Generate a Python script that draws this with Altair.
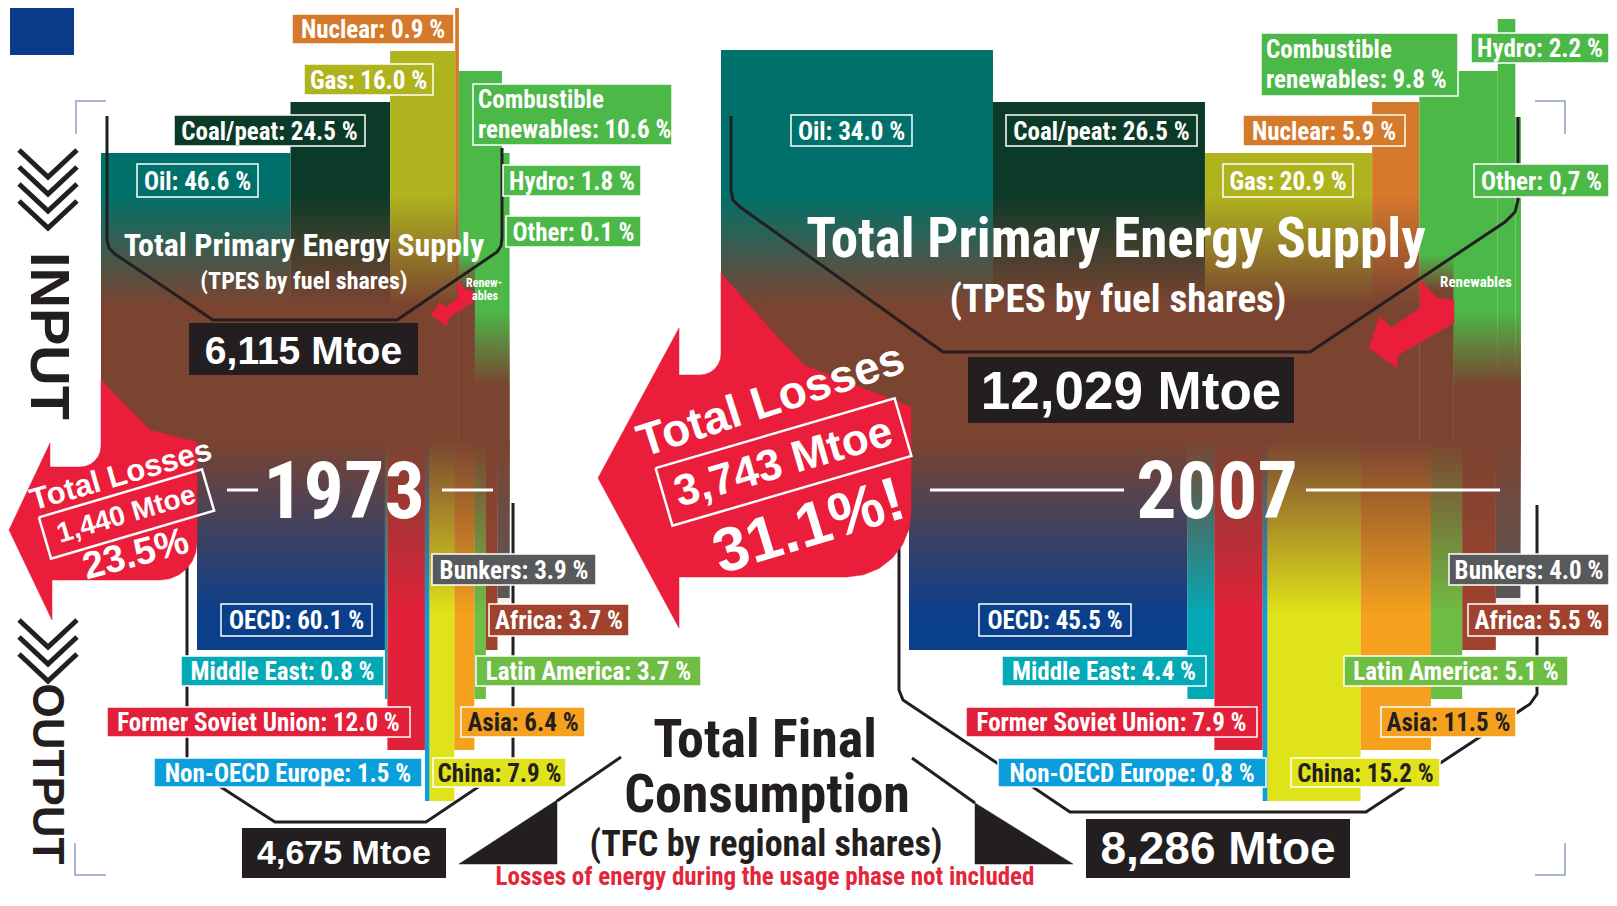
import math
import altair as alt
import pandas as pd

# ================= DATA (read from the infographic) =================
years = ["1973", "2007"]
fuels = ["Oil", "Coal/peat", "Gas", "Nuclear", "Combustible renewables", "Hydro", "Other"]
fuel_share_1973 = [46.6, 24.5, 16.0, 0.9, 10.6, 1.8, 0.1]
fuel_share_2007 = [34.0, 26.5, 20.9, 5.9, 9.8, 2.2, 0.7]
regions = ["OECD", "Middle East", "Former Soviet Union", "Non-OECD Europe",
           "China", "Asia", "Latin America", "Africa", "Bunkers"]
region_share_1973 = [60.1, 0.8, 12.0, 1.5, 7.9, 6.4, 3.7, 3.7, 3.9]
region_share_2007 = [45.5, 4.4, 7.9, 0.8, 15.2, 11.5, 5.1, 5.5, 4.0]
tpes_mtoe = [6115, 12029]
tfc_mtoe = [4675, 8286]
losses_mtoe = [1440, 3743]
losses_pct = [23.5, 31.1]
losses_suffix = ["%", "%!"]
comma_decimal = [("2007", "Other"), ("2007", "Non-OECD Europe")]

# ================= STYLE =================
FUEL_COLORS = ["#00716A", "#0C3A29", "#AFB41E", "#D5792B", "#4BB848", "#4BB848", "#4BB848"]
REGION_COLORS = ["#0A3F8B", "#03A9B5", "#E3203A", "#0A9EDB", "#E1E31A",
                 "#F5A11D", "#6FBE44", "#A0422E", "#58595B"]
REGION_TEXT = ["white", "white", "white", "white", "#231F20", "#231F20", "white", "white", "white"]
BROWN = "#7A4431"
BROWN_0 = "rgba(122,68,49,0)"
RED = "#EA1D3A"
INK = "#231F20"
FRAME = "#A9B3D6"
EU_BLUE = "#0B3C8C"
FONT_C = "Noto Sans Condensed, Roboto Condensed, Liberation Sans Narrow, Roboto, sans-serif"
FONT_W = "Liberation Sans, Arial, sans-serif"

# ================= LAYOUT (page pixels) =================
PX_PER_MTOE = 0.0665
tpes_x0 = [101, 721]
fuel_top_1973 = [153, 102, 51, 7, 71, 153, 153]
fuel_top_2007 = [50, 102, 153, 102, 71, 19, 117]
RENEW_FROM = 4
renew_arrow_w = [16, 34]       # part of the renewables band that bends into the mix early
tfc_left = [197, 909]          # right edge is aligned with the TPES band
region_tier = [1, 2, 3, 4, 4, 3, 2, 1, 0]
tier_bottom = [598, 650, 699, 750, 801]
fuel_label_box_1973 = [(137, 164, 258, 197), (174, 115, 365, 146), (304, 64, 433, 95),
                       (292, 14, 454, 44), (473, 84, 672, 145), (503, 165, 641, 196),
                       (506, 216, 641, 247)]
fuel_label_box_2007 = [(791, 115, 912, 146), (1006, 115, 1197, 146), (1223, 164, 1353, 197),
                       (1243, 115, 1405, 146), (1261, 33, 1458, 96), (1471, 33, 1609, 63),
                       (1474, 164, 1609, 197)]
region_label_box_1973 = [(221, 604, 372, 636), (181, 656, 384, 686), (107, 707, 410, 737),
                         (154, 758, 422, 787), (433, 758, 566, 787), (461, 707, 585, 737),
                         (476, 656, 701, 686), (489, 604, 629, 636), (432, 554, 596, 585)]
region_label_box_2007 = [(979, 604, 1131, 636), (1002, 656, 1206, 686), (966, 707, 1257, 737),
                         (998, 758, 1266, 787), (1291, 758, 1440, 787), (1381, 707, 1516, 737),
                         (1344, 656, 1568, 686), (1468, 604, 1609, 636), (1449, 554, 1609, 585)]
tpes_box = [(189, 323, 418, 375), (968, 357, 1294, 423)]
tfc_box = [(242, 828, 446, 878), (1086, 819, 1350, 878)]

XS = alt.Scale(domain=[8, 1609], nice=False, zero=False)
YS = alt.Scale(domain=[8, 894], nice=False, zero=False, reverse=True)


def rect_enc():
    return dict(x=alt.X("x0:Q", scale=XS, axis=None), x2=alt.X2("x1:Q"),
                y=alt.Y("y0:Q", scale=YS, axis=None), y2=alt.Y2("y1:Q"))


def pt_enc():
    return dict(x=alt.X("x:Q", scale=XS, axis=None), y=alt.Y("y:Q", scale=YS, axis=None))


def fmt(v, yr, name):
    s = f"{v:.1f}"
    if (yr, name) in comma_decimal:
        s = s.replace(".", ",")
    return s


layers = []

# ---------- EU square ----------
layers.append(alt.Chart(pd.DataFrame([dict(x0=10, x1=74, y0=7, y1=55)]))
              .mark_rect(fill=EU_BLUE).encode(**rect_enc()))

# ---------- fuel columns (TPES) ----------
fuel_rows = []
for yi, yr in enumerate(years):
    shares = fuel_share_1973 if yi == 0 else fuel_share_2007
    tops = fuel_top_1973 if yi == 0 else fuel_top_2007
    x = tpes_x0[yi]
    for i, f in enumerate(fuels):
        w = shares[i] / 100.0 * tpes_mtoe[yi] * PX_PER_MTOE
        fuel_rows.append(dict(year=yr, fuel=f, idx=i, x0=x, x1=x + w, y0=tops[i], y1=445,
                              fill=FUEL_COLORS[i]))
        x += w
fuel_df = pd.DataFrame(fuel_rows)
layers.append(alt.Chart(fuel_df).mark_rect().encode(fill=alt.Fill("fill:N", scale=None), **rect_enc()))


def grad_rect(x0, x1, y0, y1, y_full, reverse=False):
    off = (y_full - y0) / (y1 - y0)
    stops = [(0, BROWN), (1, BROWN_0)] if reverse else [(0, BROWN_0), (off, BROWN), (1, BROWN)]
    g = alt.Gradient(gradient="linear", x1=0, x2=0, y1=0, y2=1,
                     stops=[alt.GradientStop(color=c, offset=o) for o, c in stops])
    return alt.Chart(pd.DataFrame([dict(x0=x0, x1=x1, y0=y0, y1=y1)])).mark_rect(fill=g).encode(**rect_enc())


# fade of the fuels into the brown "mix"
tpes_right = []
for yi, yr in enumerate(years):
    d = fuel_df[fuel_df.year == yr]
    xa = d.x0.min()
    xr = d[d.idx == RENEW_FROM].x0.iloc[0]
    xb = d.x1.max()
    tpes_right.append(xb)
    layers.append(grad_rect(xa, xr, 195, 445, 305))
    layers.append(grad_rect(xr, xr + renew_arrow_w[yi], 255, 445, 290))
    layers.append(grad_rect(xr + renew_arrow_w[yi], xb, 310, 445, 385))

# ---------- region columns (TFC) ----------
reg_rows = []
for yi, yr in enumerate(years):
    shares = region_share_1973 if yi == 0 else region_share_2007
    bx0, bx1 = tfc_left[yi], tpes_right[yi]
    x = bx0
    for i, r in enumerate(regions):
        w = shares[i] / 100.0 * (bx1 - bx0)
        reg_rows.append(dict(year=yr, region=r, x0=x, x1=x + w, y0=440,
                             y1=tier_bottom[region_tier[i]], fill=REGION_COLORS[i]))
        x += w
reg_df = pd.DataFrame(reg_rows)
layers.append(alt.Chart(reg_df).mark_rect().encode(fill=alt.Fill("fill:N", scale=None), **rect_enc()))
for yi in range(2):
    layers.append(grad_rect(tfc_left[yi], tpes_right[yi], 440, 615, 440, reverse=True))


# ---------- helper geometry ----------
def arc(cx, cy, r, t0, t1, n=7):
    return [(cx + r * math.cos(t0 + (t1 - t0) * k / (n - 1)),
             cy + r * math.sin(t0 + (t1 - t0) * k / (n - 1))) for k in range(n)]


def rot_box(cx, cy, w, h, ang):
    t = math.radians(ang)
    ux, uy = math.cos(t), -math.sin(t)
    vx, vy = math.sin(t), math.cos(t)
    pts = []
    for a, b in [(-1, -1), (1, -1), (1, 1), (-1, 1), (-1, -1)]:
        pts.append((cx + a * ux * w / 2 + b * vx * h / 2, cy + a * uy * w / 2 + b * vy * h / 2))
    return pts


def paths_df(paths):
    rows = []
    for pid, pts in enumerate(paths):
        for o, (x, y) in enumerate(pts):
            rows.append(dict(id=pid, o=o, x=x, y=y))
    return pd.DataFrame(rows)


def line_layer(paths, color, width, **kw):
    return alt.Chart(paths_df(paths)).mark_line(color=color, strokeWidth=width, strokeJoin="miter", **kw).encode(
        detail="id:N", order="o:Q", **pt_enc())


def poly_layer(paths, color):
    return alt.Chart(paths_df(paths)).mark_line(fill=color, color=color, strokeWidth=0.5).encode(
        detail="id:N", order="o:Q", **pt_enc())


# ---------- outline "cups" ----------
cups = [
    [(107, 116), (107, 240), (109, 248), (115, 254), (213, 320), (397, 320), (497, 252), (501, 246), (502, 238), (502, 148)],
    [(731, 116), (731, 190), (733, 200), (740, 207), (943, 352), (1310, 352), (1505, 222), (1515, 212), (1518, 200), (1518, 117)],
    [(187, 505), (187, 760), (190, 767), (275, 822), (426, 822), (508, 767), (513, 760), (513, 503)],
    [(899, 503), (899, 690), (903, 700), (1070, 812), (1366, 812), (1530, 704), (1537, 694), (1537, 505)],
]
layers.append(line_layer(cups, INK, 3))

# ---------- big red loss arrows + small bent renewables arrows ----------
big_1973 = ([(101, 380), (150, 430), (197, 442), (197, 543)] + arc(160, 543, 37, 0, math.pi / 2)
            + [(52, 580), (52, 620), (9, 530), (50, 443), (50, 467)] + arc(80, 446, 21, math.pi / 2, 0)
            + [(101, 380)])
big_2007 = ([(721, 273), (771, 330), (804, 365), (911, 407), (911, 513)] + arc(847, 513, 64, 0, math.pi / 2)
            + [(679, 577), (679, 628), (598, 478), (679, 328), (679, 375)] + arc(700, 354, 21, math.pi / 2, 0)
            + [(721, 273)])
small_1973 = [(458, 281), (466, 290), (473, 291), (473, 302), (450, 317), (446, 326), (431, 315),
              (440, 303), (446, 307), (458, 298), (458, 281)]
small_2007 = [(1420, 280), (1437, 298), (1454, 300), (1454, 323), (1398, 355), (1397, 368), (1369, 348),
              (1380, 316), (1391, 328), (1420, 308), (1420, 280)]
layers.append(poly_layer([big_1973, big_2007, small_1973, small_2007], RED))

# ---------- TFC wedges ----------
layers.append(poly_layer([[(459, 864), (557, 864), (557, 800), (459, 864)],
                          [(975, 803), (975, 864), (1073, 864), (975, 803)]], INK))
layers.append(line_layer([[(557, 801), (621, 757)], [(912, 758), (975, 803)]], INK, 3))

# ---------- chevrons, frame corners, year dashes ----------
chev = [[(19, 150 + 17 * i), (48, 177 + 17 * i), (77, 150 + 17 * i)] for i in range(4)]
chev += [[(19, 620 + 17 * i), (48, 647 + 17 * i), (77, 620 + 17 * i)] for i in range(3)]
layers.append(line_layer(chev, INK, 5))
corners = [[(106, 101), (76, 101), (76, 134)], [(75, 843), (75, 875), (106, 875)],
           [(1535, 101), (1565, 101), (1565, 134)], [(1565, 843), (1565, 875), (1535, 875)]]
layers.append(line_layer(corners, FRAME, 2))
dashes = [[(227, 490), (258, 490)], [(442, 490), (493, 490)],
          [(930, 490), (1124, 490)], [(1306, 490), (1500, 490)]]
layers.append(line_layer(dashes, "white", 3))

# ---------- label boxes ----------
box_rows, txt_c, txt_left = [], [], []
for yi, yr in enumerate(years):
    shares = fuel_share_1973 if yi == 0 else fuel_share_2007
    boxes = fuel_label_box_1973 if yi == 0 else fuel_label_box_2007
    for i, f in enumerate(fuels):
        x0, y0, x1, y1 = boxes[i]
        box_rows.append(dict(x0=x0, x1=x1, y0=y0, y1=y1, fill=FUEL_COLORS[i]))
        if f == "Combustible renewables":
            h = y1 - y0
            txt_left.append(dict(x=x0 + 5, y=y0 + h * 0.27, text="Combustible", size=25, color="white", angle=0))
            txt_left.append(dict(x=x0 + 5, y=y0 + h * 0.75, text=f"renewables: {fmt(shares[i], yr, f)} %",
                                 size=25, color="white", angle=0))
        else:
            txt_c.append(dict(x=(x0 + x1) / 2, y=(y0 + y1) / 2 + 1, text=f"{f}: {fmt(shares[i], yr, f)} %",
                              size=25, color="white", angle=0))
    shares = region_share_1973 if yi == 0 else region_share_2007
    boxes = region_label_box_1973 if yi == 0 else region_label_box_2007
    for i, r in enumerate(regions):
        x0, y0, x1, y1 = boxes[i]
        box_rows.append(dict(x0=x0, x1=x1, y0=y0, y1=y1, fill=REGION_COLORS[i]))
        txt_c.append(dict(x=(x0 + x1) / 2, y=(y0 + y1) / 2 + 1, text=f"{r}: {fmt(shares[i], yr, r)} %",
                          size=25, color=REGION_TEXT[i], angle=0))
layers.append(alt.Chart(pd.DataFrame(box_rows)).mark_rect(stroke="white", strokeWidth=1.5)
              .encode(fill=alt.Fill("fill:N", scale=None), **rect_enc()))

# black Mtoe boxes
mt_rows, txt_w = [], []
for yi in range(2):
    for box, val, size, dy in [(tpes_box[yi], tpes_mtoe[yi], [39, 53][yi], 3),
                               (tfc_box[yi], tfc_mtoe[yi], [34, 46][yi], 1)]:
        x0, y0, x1, y1 = box
        mt_rows.append(dict(x0=x0, x1=x1, y0=y0, y1=y1))
        txt_w.append(dict(x=(x0 + x1) / 2, y=(y0 + y1) / 2 + dy, text=f"{val:,} Mtoe", size=size,
                          color="white", angle=0))
layers.append(alt.Chart(pd.DataFrame(mt_rows)).mark_rect(fill=INK).encode(**rect_enc()))

# rotated loss boxes
loss_box = [(126.5, 514, 170, 43, 16.4), (783.5, 462, 249, 60, 16.3)]
layers.append(line_layer([rot_box(*b) for b in loss_box], "white", 2.5))
loss_title_pos = [(121, 476, 31, 344), (771, 401, 46, 342)]
loss_pct_pos = [(136, 555, 38, 345), (809, 527, 62, 343)]
for yi in range(2):
    cx, cy, w, h, ang = loss_box[yi]
    x, y, s, a = loss_title_pos[yi]
    txt_w.append(dict(x=x, y=y, text="Total Losses", size=s, color="white", angle=a))
    txt_w.append(dict(x=cx, y=cy + 1, text=f"{losses_mtoe[yi]:,} Mtoe", size=[28, 44][yi], color="white",
                      angle=360 - ang))
    x, y, s, a = loss_pct_pos[yi]
    txt_w.append(dict(x=x, y=y, text=f"{losses_pct[yi]:.1f}{losses_suffix[yi]}", size=s, color="white", angle=a))
txt_w.append(dict(x=48, y=336, text="INPUT", size=56, color=INK, angle=90))
txt_w.append(dict(x=46, y=774, text="OUTPUT", size=44, color=INK, angle=90))

# other condensed titles
txt_c += [
    dict(x=304, y=246, text="Total Primary Energy Supply", size=32, color="white", angle=0),
    dict(x=304, y=282, text="(TPES by fuel shares)", size=24, color="white", angle=0),
    dict(x=1116, y=240, text="Total Primary Energy Supply", size=55, color="white", angle=0),
    dict(x=1118, y=300, text="(TPES by fuel shares)", size=39, color="white", angle=0),
    dict(x=344, y=494, text=years[0], size=80, color="white", angle=0),
    dict(x=1217, y=494, text=years[1], size=80, color="white", angle=0),
    dict(x=765, y=741, text="Total Final", size=54, color=INK, angle=0),
    dict(x=767, y=796, text="Consumption", size=54, color=INK, angle=0),
    dict(x=766, y=845, text="(TFC by regional shares)", size=36, color=INK, angle=0),
    dict(x=765, y=877, text="Losses of energy during the usage phase not included", size=25,
         color="#E4253A", angle=0),
    dict(x=484, y=283, text="Renew-", size=12, color="white", angle=0),
    dict(x=485, y=296, text="ables", size=12, color="white", angle=0),
    dict(x=1476, y=282, text="Renewables", size=15, color="white", angle=0),
]


def text_layer(rows, font, align):
    return alt.Chart(pd.DataFrame(rows)).mark_text(font=font, fontWeight="bold", align=align, baseline="middle").encode(
        text="text:N", size=alt.Size("size:Q", scale=None), color=alt.Color("color:N", scale=None),
        angle=alt.Angle("angle:Q", scale=None), **pt_enc())


layers.append(text_layer(txt_c, FONT_C, "center"))
layers.append(text_layer(txt_left, FONT_C, "left"))
layers.append(text_layer(txt_w, FONT_W, "center"))

chart = (alt.layer(*layers)
         .properties(width=1601, height=886, autosize=alt.AutoSizeParams(type="none"), padding=0,
                     background="white")
         .configure_view(strokeWidth=0))
chart.save("out.html", embed_options={"renderer": "svg", "actions": False})
